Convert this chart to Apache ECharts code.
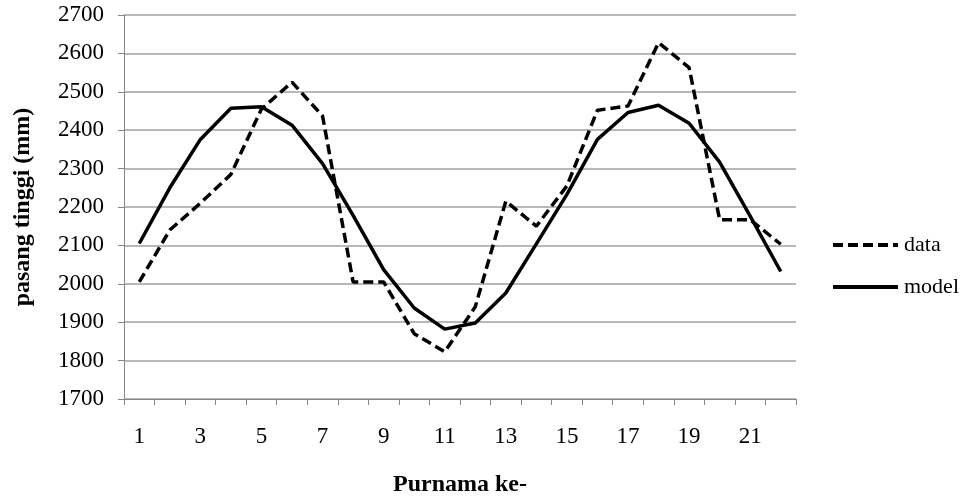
<!DOCTYPE html>
<html>
<head>
<meta charset="utf-8">
<script src="https://cdn.jsdelivr.net/npm/echarts@6/dist/echarts.min.js"></script>
<style>
    html, body { margin: 0; padding: 0; background: #fff; }
    #chart { width: 969px; height: 497px; }
</style>
</head>
<body>
<div id="chart"></div>
<script>
// purnama ke- 1..22
var categories = ['1','2','3','4','5','6','7','8','9','10','11','12','13','14','15','16','17','18','19','20','21','22'];
// pasang tinggi observasi (mm)
var dataValues = [2005, 2140, 2210, 2285, 2455, 2525, 2437, 2005, 2005, 1870, 1823, 1940, 2215, 2150, 2255, 2452, 2463, 2628, 2563, 2167, 2167, 2103];
// pasang tinggi model (mm)
var modelValues = [2105, 2250, 2376, 2457, 2461, 2413, 2313, 2178, 2037, 1937, 1882, 1898, 1976, 2104, 2233, 2376, 2446, 2465, 2418, 2317, 2176, 2032];
var yTicks = { min: 1700, max: 2700, step: 100 };

var serif = '"Liberation Serif", "DejaVu Serif", serif';
var chart = echarts.init(document.getElementById('chart'));

var option = {
    animation: false,
    backgroundColor: '#fff',
    textStyle: { fontFamily: serif, color: '#000' },
    grid: { left: 124, right: 173, top: 15, bottom: 98, containLabel: false, outerBoundsMode: 'none' },
    legend: {
        orient: 'vertical',
        left: 826,
        top: 229,
        itemWidth: 65,
        itemHeight: 10,
        itemGap: 20,
        data: ['data', 'model'],
        itemStyle: { opacity: 0 },
        lineStyle: { width: 4 },
        textStyle: { fontFamily: serif, fontSize: 22, color: '#000', padding: [0, 0, 0, 1] }
    },
    xAxis: {
        type: 'category',
        data: categories,
        boundaryGap: true,
        name: 'Purnama ke-',
        nameLocation: 'middle',
        nameGap: 74,
        nameTextStyle: { fontFamily: serif, fontSize: 24, fontWeight: 'bold', color: '#000' },
        axisLine: { lineStyle: { color: '#868686', width: 1 } },
        axisTick: { show: true, alignWithLabel: false, interval: 0, length: 6, lineStyle: { color: '#868686' } },
        axisLabel: { interval: 1, margin: 26, fontSize: 23, color: '#000', fontFamily: serif }
    },
    yAxis: {
        type: 'value',
        min: yTicks.min,
        max: yTicks.max,
        interval: yTicks.step,
        name: 'pasang tinggi (mm)',
        nameLocation: 'middle',
        nameGap: 89,
        nameRotate: 90,
        nameTextStyle: { fontFamily: serif, fontSize: 24, fontWeight: 'bold', color: '#000' },
        axisLine: { show: true, lineStyle: { color: '#868686', width: 1 } },
        axisTick: { show: true, length: 6, lineStyle: { color: '#868686' } },
        axisLabel: {
            margin: 20,
            fontSize: 23,
            color: '#000',
            fontFamily: serif,
            formatter: function (v) { return String(v); }
        },
        splitLine: { show: true, lineStyle: { color: '#a0a0a0', width: 1.5 } }
    },
    series: [
        {
            name: 'data',
            type: 'line',
            data: dataValues,
            symbol: 'none',
            lineStyle: { color: '#000', width: 3.5, type: [10, 5] },
            itemStyle: { color: '#000' }
        },
        {
            name: 'model',
            type: 'line',
            data: modelValues,
            symbol: 'none',
            lineStyle: { color: '#000', width: 3.5, type: 'solid' },
            itemStyle: { color: '#000' }
        }
    ]
};

chart.setOption(option);
</script>
</body>
</html>
